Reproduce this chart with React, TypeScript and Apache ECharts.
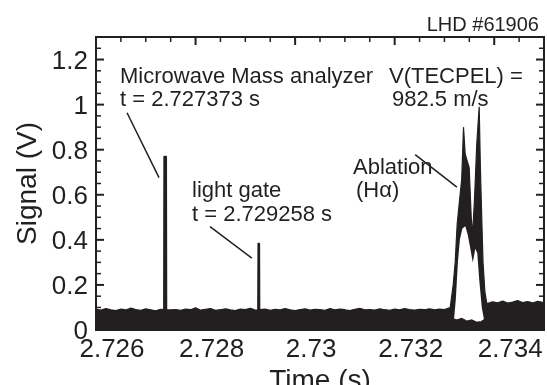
import React, { useEffect, useRef } from "react";
import * as echarts from "echarts";

// ---- axis ranges & ticks ----
const xMin = 2.726;
const xMax = 2.735;
const xInterval = 0.002;
const xMinorStep = 0.0005;
const yMin = 0;
const yMax = 1.3;
const yInterval = 0.2;
const yMinorStep = 0.05;
const xMajorTicks = [2.726, 2.728, 2.73, 2.732, 2.734];
const yMajorTicks = [0, 0.2, 0.4, 0.6, 0.8, 1.0, 1.2];

// ---- baseline noise (upper edge of the black band) ----
const noiseLeftStart = 2.726;
const noiseStep = 0.0001;
const noiseLeftValues = [
  0.092, 0.088, 0.095, 0.09, 0.086, 0.093, 0.089, 0.097, 0.091, 0.087,
  0.094, 0.09, 0.085, 0.092, 0.096, 0.089, 0.091, 0.087, 0.093, 0.09,
  0.099, 0.088, 0.092, 0.095, 0.087, 0.09, 0.094, 0.089, 0.086, 0.093,
  0.091, 0.096, 0.088, 0.09, 0.093, 0.087, 0.092, 0.089, 0.095, 0.09,
  0.086, 0.091, 0.094, 0.088, 0.092, 0.09, 0.087, 0.095, 0.089, 0.093,
  0.09, 0.086, 0.092, 0.096, 0.089, 0.091, 0.088, 0.094, 0.09, 0.087,
  0.093, 0.089, 0.095, 0.091, 0.088, 0.092, 0.09, 0.094, 0.089, 0.093,
  0.091, 0.095,
];
const noiseRightStart = 2.73387;
const noiseRightValues = [
  0.118, 0.125, 0.121, 0.128, 0.119, 0.124, 0.131, 0.122, 0.126, 0.12,
  0.127, 0.123,
];

// ---- spikes: microwave mass analyzer and light gate ----
const spikeMicrowave: [number, number][] = [
  [2.72736, 0.09],
  [2.727365, 0.77],
  [2.727415, 0.77],
  [2.72742, 0.09],
];
const spikeLightGate: [number, number][] = [
  [2.72925, 0.09],
  [2.729255, 0.385],
  [2.729285, 0.385],
  [2.72929, 0.09],
];

// ---- ablation (H-alpha) peak: outer envelope ----
const ablationOuter: [number, number][] = [
  [2.733116, 0.1],
  [2.733176, 0.2],
  [2.733216, 0.3],
  [2.733256, 0.47],
  [2.733296, 0.56],
  [2.733347, 0.67],
  [2.733383, 0.9],
  [2.733417, 0.78],
  [2.733457, 0.75],
  [2.733497, 0.72],
  [2.733538, 0.5],
  [2.733565, 0.42],
  [2.733608, 0.6],
  [2.733648, 0.82],
  [2.733698, 0.99],
  [2.733722, 0.72],
  [2.733749, 0.5],
  [2.733775, 0.3],
  [2.733812, 0.17],
  [2.733849, 0.12],
];
// inner (white) envelope of the oscillating peak
const ablationInner: [number, number][] = [
  [2.73319, 0.04],
  [2.73323, 0.14],
  [2.73327, 0.3],
  [2.73331, 0.4],
  [2.73336, 0.45],
  [2.73342, 0.46],
  [2.73347, 0.42],
  [2.73352, 0.36],
  [2.73357, 0.3],
  [2.73362, 0.36],
  [2.73366, 0.34],
  [2.7337, 0.22],
  [2.73375, 0.1],
  [2.7338, 0.04],
];
// lower envelope under the peak
const ablationLower: [number, number][] = [
  [2.73317, 0.05],
  [2.73325, 0.045],
  [2.73335, 0.052],
  [2.73345, 0.04],
  [2.73355, 0.045],
  [2.73365, 0.035],
  [2.73373, 0.037],
  [2.73382, 0.05],
];

// ---- leader lines of the annotations ----
const leaderMicrowave: [number, number][] = [
  [2.726623, 0.964],
  [2.727266, 0.676],
];
const leaderLightGate: [number, number][] = [
  [2.728291, 0.459],
  [2.72913, 0.319],
];
const leaderAblation: [number, number][] = [
  [2.732412, 0.778],
  [2.73325, 0.634],
];

const INK = "#231f20";
const FONT = "Liberation Sans, Arial, Helvetica, sans-serif";

function buildSignal(): [number, number][] {
  const pts: [number, number][] = [];
  noiseLeftValues.forEach((v, i) => pts.push([noiseLeftStart + i * noiseStep, v]));
  noiseRightValues.forEach((v, i) => pts.push([noiseRightStart + i * noiseStep, v]));
  const ranges = [spikeMicrowave, spikeLightGate, ablationOuter].map((s) => [
    s[0][0] - 0.00002,
    s[s.length - 1][0] + 0.00002,
  ]);
  const filtered = pts.filter(
    ([t]) => !ranges.some(([a, b]) => t >= a && t <= b)
  );
  const all = filtered.concat(spikeMicrowave, spikeLightGate, ablationOuter);
  all.sort((a, b) => a[0] - b[0]);
  all.push([xMax, noiseRightValues[noiseRightValues.length - 1]]);
  return all;
}

function minorValues(start: number, end: number, step: number, majors: number[]) {
  const out: number[] = [];
  for (let v = start; v < end - step / 2; v += step) {
    const r = Math.round(v * 1e6) / 1e6;
    if (!majors.some((m) => Math.abs(m - r) < step / 10)) out.push(r);
  }
  return out;
}

function txt(text: string, x: number, y: number, size: number, align = "left") {
  return {
    type: "text",
    x,
    y,
    z: 100,
    style: { text, fill: INK, font: `${size}px ${FONT}`, align, verticalAlign: "middle" },
  };
}

export default function App() {
  const ref = useRef<HTMLDivElement>(null);
  useEffect(() => {
    if (!ref.current) return;
    const chart = echarts.init(ref.current, null, { renderer: "svg" });
    const leaderSeries = (name: string, data: [number, number][]) => ({
      type: "line",
      name,
      data,
      symbol: "none",
      lineStyle: { color: INK, width: 1.5 },
      z: 5,
    });
    chart.setOption({
      animation: false,
      grid: { left: 96, top: 37, width: 448, height: 293, outerBoundsMode: "none" },
      xAxis: {
        type: "value",
        min: xMin,
        max: xMax,
        interval: xInterval,
        axisLine: { show: true, onZero: false, lineStyle: { color: INK, width: 2 } },
        axisTick: { show: false },
        splitLine: { show: false },
        name: "Time (s)",
        nameLocation: "middle",
        nameGap: 32,
        nameTextStyle: { color: INK, fontSize: 28, fontFamily: FONT },
        axisLabel: {
          showMaxLabel: false,
          margin: 5,
          color: INK,
          fontSize: 26,
          fontFamily: FONT,
          padding: [0, 0, 0, 32],
        },
      },
      yAxis: {
        type: "value",
        min: yMin,
        max: yMax,
        interval: yInterval,
        axisLine: { show: true, onZero: false, lineStyle: { color: INK, width: 2 } },
        axisTick: { show: false },
        splitLine: { show: false },
        name: "Signal (V)",
        nameLocation: "middle",
        nameGap: 54,
        nameTextStyle: { color: INK, fontSize: 28, fontFamily: FONT },
        axisLabel: {
          showMaxLabel: false,
          margin: 8,
          color: INK,
          fontSize: 26,
          fontFamily: FONT,
        },
      },
      series: [
        {
          type: "line",
          name: "Signal",
          data: buildSignal(),
          symbol: "none",
          lineStyle: { color: INK, width: 1.2 },
          areaStyle: { color: INK, opacity: 1, origin: "start" },
          z: 2,
        },
        {
          type: "line",
          name: "Ablation inner",
          data: ablationInner,
          symbol: "none",
          lineStyle: { color: "#ffffff", width: 0 },
          areaStyle: { color: "#ffffff", opacity: 1, origin: "start" },
          z: 3,
        },
        {
          type: "line",
          name: "Ablation lower",
          data: ablationLower,
          symbol: "none",
          lineStyle: { color: INK, width: 1 },
          areaStyle: { color: INK, opacity: 1, origin: "start" },
          z: 4,
        },
        leaderSeries("leader microwave", leaderMicrowave),
        leaderSeries("leader light gate", leaderLightGate),
        leaderSeries("leader ablation", leaderAblation),
      ],
    });

    // frame and inside ticks on the left, top and right edges, placed with the axes' own scales
    const px = (v: number) => chart.convertToPixel({ xAxisIndex: 0 }, v) as unknown as number;
    const py = (v: number) => chart.convertToPixel({ yAxisIndex: 0 }, v) as unknown as number;
    const xl = px(xMin);
    const xr = px(xMax);
    const yt = py(yMax);
    const yb = py(yMin);
    const frame: any[] = [];
    if ([xl, xr, yt, yb].every((v) => typeof v === "number" && isFinite(v))) {
      frame.push({
        type: "rect",
        z: 90,
        silent: true,
        shape: { x: xl, y: yt, width: xr - xl, height: yb - yt },
        style: { fill: "transparent", stroke: INK, lineWidth: 2 },
      });
      const tickLine = (x1: number, y1: number, x2: number, y2: number, w: number) => ({
        type: "line",
        z: 90,
        silent: true,
        shape: { x1, y1, x2, y2 },
        style: { stroke: INK, lineWidth: w },
      });
      xMajorTicks.forEach((v) => {
        const x = px(v);
        frame.push(tickLine(x, yt, x, yt + 8, 2));
      });
      minorValues(xMin, xMax, xMinorStep, xMajorTicks).forEach((v) => {
        const x = px(v);
        frame.push(tickLine(x, yt, x, yt + 5, 1.5));
      });
      yMajorTicks.forEach((v) => {
        const y = py(v);
        frame.push(tickLine(xl, y, xl + 8, y, 2));
        frame.push(tickLine(xr, y, xr - 8, y, 2));
      });
      minorValues(yMin, yMax, yMinorStep, yMajorTicks).forEach((v) => {
        const y = py(v);
        frame.push(tickLine(xl, y, xl + 5, y, 1.5));
        frame.push(tickLine(xr, y, xr - 5, y, 1.5));
      });
    }

    chart.setOption({
      graphic: [
        txt("LHD #61906", 539, 24, 20, "right"),
        txt("Microwave Mass analyzer", 120, 75, 22),
        txt("t = 2.727373 s", 120, 98, 22),
        txt("V(TECPEL) =", 389, 75, 22),
        txt("982.5 m/s", 392, 98, 22),
        txt("light gate", 192, 189, 22),
        txt("t = 2.729258 s", 192, 213, 22),
        txt("Ablation", 353, 166, 22),
        txt("(Hα)", 356, 189, 22),
        ...frame,
      ],
    });
    return () => chart.dispose();
  }, []);
  return (
    <div
      ref={ref}
      style={{ position: "fixed", left: 0, top: 0, width: 547, height: 385 }}
    />
  );
}
